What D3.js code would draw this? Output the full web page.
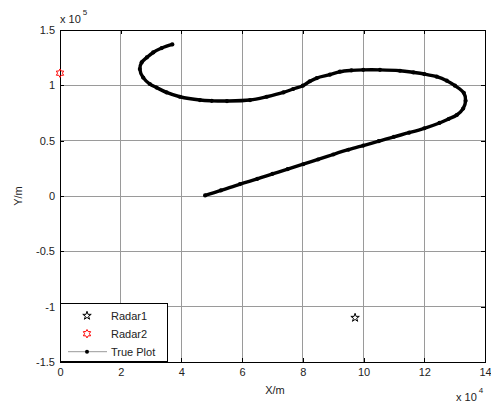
<!DOCTYPE html>
<html>
<head>
<meta charset="utf-8">
<script src="https://cdn.jsdelivr.net/npm/d3@7"></script>
<style>
  body { margin: 0; background: #fff; }
  svg text { font-family: "Liberation Sans", Arial, sans-serif; }
</style>
</head>
<body>
<div id="chart"></div>
<script>
// track, in metres
var trackX = [47800, 53000, 59300, 65000, 70000, 75000, 80100, 85000, 90000, 95000, 99900,
  105000, 110000, 115000, 120000, 125000, 128000, 130700, 132800, 133600, 133000, 130100,
  127400, 124100, 120000, 116400, 112000, 105400, 99900, 96000, 92200, 88900, 84600,
  82300, 80000, 76800, 73600, 68100, 62600, 55000, 50000, 46100, 39500, 35100, 31800,
  29600, 27400, 26300, 26900, 28600, 30700, 33500, 37000];
var trackY = [500, 5000, 10800, 15500, 20000, 24300, 28700, 33000, 37500, 41800, 45600,
  49500, 53500, 57200, 61200, 66000, 69600, 73200, 79000, 86000, 93300, 99700,
  104200, 107800, 110200, 111700, 113200, 114000, 114000, 113500, 112300, 109600, 106600,
  103600, 99700, 96700, 93600, 89700, 86700, 85800, 86000, 86700, 89700, 93600, 98000,
  101200, 107000, 114700, 120700, 125200, 129700, 133700, 137000];
var radar1 = [97200, -110000];
var radar2 = [0, 111000];
var legendLabels = ["Radar1", "Radar2", "True Plot"];
var xTicks = [0, 20000, 40000, 60000, 80000, 100000, 120000, 140000];
var yTicks = [-150000, -100000, -50000, 0, 50000, 100000, 150000];

var W = 491, H = 403;
var pLeft = 60, pRight = 485, pTop = 30, pBottom = 362;

var svg = d3.select("#chart").append("svg")
  .attr("width", W).attr("height", H)
  .style("background", "#fff");

var x = d3.scaleLinear().domain([0, 140000]).range([pLeft, pRight]);
var y = d3.scaleLinear().domain([-150000, 150000]).range([pBottom, pTop]);

// grid
svg.append("g").selectAll("line").data(xTicks.slice(1, -1)).enter().append("line")
  .attr("x1", d => x(d)).attr("x2", d => x(d))
  .attr("y1", pTop).attr("y2", pBottom)
  .attr("stroke", "#9a9a9a").attr("stroke-width", 1).attr("shape-rendering", "crispEdges");
svg.append("g").selectAll("line").data(yTicks.slice(1, -1)).enter().append("line")
  .attr("y1", d => y(d)).attr("y2", d => y(d))
  .attr("x1", pLeft).attr("x2", pRight)
  .attr("stroke", "#9a9a9a").attr("stroke-width", 1).attr("shape-rendering", "crispEdges");

// axes, ticks pointing inside
var fmtX = d => String(d / 10000);
var fmtY = d => String(d / 100000);
function styleAxis(g) {
  g.selectAll("path").attr("stroke", "#000").attr("shape-rendering", "crispEdges");
  g.selectAll("line").attr("stroke", "#000").attr("shape-rendering", "crispEdges");
  g.selectAll("text").attr("fill", "#222").style("font-size", "11px");
}
svg.append("g").attr("transform", "translate(0," + pBottom + ")")
  .call(d3.axisBottom(x).tickValues(xTicks).tickFormat(fmtX).tickSize(-4).tickSizeOuter(0).tickPadding(6))
  .call(styleAxis);
svg.append("g").attr("transform", "translate(0," + pTop + ")")
  .call(d3.axisTop(x).tickValues(xTicks).tickFormat("").tickSize(-4).tickSizeOuter(0))
  .call(styleAxis);
svg.append("g").attr("transform", "translate(" + pLeft + ",0)")
  .call(d3.axisLeft(y).tickValues(yTicks).tickFormat(fmtY).tickSize(-4).tickSizeOuter(0).tickPadding(5))
  .call(styleAxis);
svg.append("g").attr("transform", "translate(" + pRight + ",0)")
  .call(d3.axisRight(y).tickValues(yTicks).tickFormat("").tickSize(-4).tickSizeOuter(0))
  .call(styleAxis);

// exponent labels
var e1 = svg.append("text").attr("x", 60).attr("y", 23).style("font-size", "11px").attr("fill", "#222");
e1.append("tspan").text("x 10");
e1.append("tspan").attr("dx", 2).attr("dy", -8).style("font-size", "8px").text("5");
var e2 = svg.append("text").attr("x", 456).attr("y", 401).style("font-size", "11px").attr("fill", "#222");
e2.append("tspan").text("x 10");
e2.append("tspan").attr("dx", 2).attr("dy", -8).style("font-size", "8px").text("4");

// axis titles
svg.append("text").attr("x", 275).attr("y", 394).attr("text-anchor", "middle")
  .style("font-size", "11px").attr("fill", "#222").text("X/m");
svg.append("text").attr("transform", "translate(22,196) rotate(-90)").attr("text-anchor", "middle")
  .style("font-size", "11px").attr("fill", "#222").text("Y/m");

// track
var pts = trackX.map((d, i) => [d, trackY[i]]);
var line = d3.line().x(d => x(d[0])).y(d => y(d[1])).curve(d3.curveCatmullRom);
svg.append("path").datum(pts).attr("d", line)
  .attr("fill", "none").attr("stroke", "#000").attr("stroke-width", 3.4);
svg.append("g").selectAll("circle").data(pts).enter().append("circle")
  .attr("cx", d => x(d[0])).attr("cy", d => y(d[1])).attr("r", 2.1).attr("fill", "#000");

// markers
var star = d3.symbol().type(d3.symbolStar).size(22);
function hexagram(r) {
  var p = [];
  for (var i = 0; i < 12; i++) {
    var rr = i % 2 === 0 ? r : r / Math.sqrt(3);
    var a = -Math.PI / 2 + i * Math.PI / 6;
    p.push([rr * Math.cos(a), rr * Math.sin(a)]);
  }
  return "M" + p.map(q => q.join(",")).join("L") + "Z";
}
svg.append("path").attr("d", star())
  .attr("transform", "translate(" + x(radar1[0]) + "," + y(radar1[1]) + ")")
  .attr("fill", "none").attr("stroke", "#000").attr("stroke-width", 1);
svg.append("path").attr("d", hexagram(4.2))
  .attr("transform", "translate(" + x(radar2[0]) + "," + y(radar2[1]) + ")")
  .attr("fill", "none").attr("stroke", "#f00").attr("stroke-width", 1);

// legend
var lg = svg.append("g");
lg.append("rect").attr("x", 60.5).attr("y", 303.5).attr("width", 107).attr("height", 58)
  .attr("fill", "#fff").attr("stroke", "#000").attr("stroke-width", 1);
var rows = [315.7, 333.7, 351.7];
legendLabels.forEach(function (t, i) {
  lg.append("text").attr("x", 111).attr("y", rows[i]).attr("dy", "0.35em")
    .style("font-size", "11px").attr("fill", "#222").text(t);
});
lg.append("path").attr("d", star()).attr("transform", "translate(87," + rows[0] + ")")
  .attr("fill", "none").attr("stroke", "#000");
lg.append("path").attr("d", hexagram(4.2)).attr("transform", "translate(87," + rows[1] + ")")
  .attr("fill", "none").attr("stroke", "#f00");
lg.append("line").attr("x1", 68).attr("x2", 107).attr("y1", rows[2]).attr("y2", rows[2])
  .attr("stroke", "#999").attr("stroke-width", 1);
lg.append("circle").attr("cx", 87).attr("cy", rows[2]).attr("r", 2).attr("fill", "#000");
</script>
</body>
</html>
